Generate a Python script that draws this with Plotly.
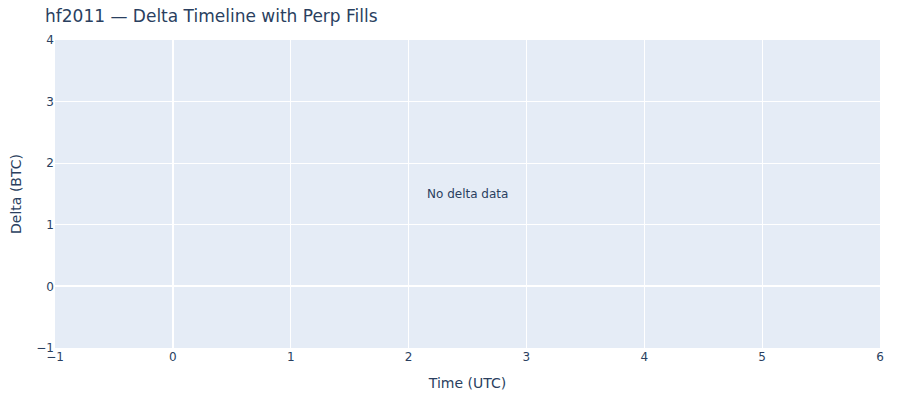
import plotly.graph_objects as go

# no delta rows came back for this account, so the chart is empty
account = "hf2011"
delta_times = []
delta_values = []
fill_times = []
fill_values = []

fig = go.Figure()

if len(delta_times) == 0:
    fig.add_annotation(
        text="No delta data",
        xref="paper",
        yref="paper",
        x=0.5,
        y=0.5,
        showarrow=False,
    )
else:
    fig.add_trace(go.Scatter(x=delta_times, y=delta_values, mode="lines", name="Delta"))
    fig.add_trace(go.Scatter(x=fill_times, y=fill_values, mode="markers", name="Perp fills"))

# page body adds 8px around the plot div, so the figure is a bit smaller
fig.update_layout(
    title=dict(
        text=f"{account} — Delta Timeline with Perp Fills",
        x=37 / 892,
        y=1 - 8 / 392,
        yanchor="middle",
    ),
    xaxis_title="Time (UTC)",
    yaxis_title="Delta (BTC)",
    font=dict(family="DejaVu Sans"),
    width=892,
    height=392,
    margin=dict(l=47, r=20, t=32, b=52),
)
fig.update_xaxes(automargin=False)
fig.update_yaxes(automargin=False)

fig.write_html("out.html")
